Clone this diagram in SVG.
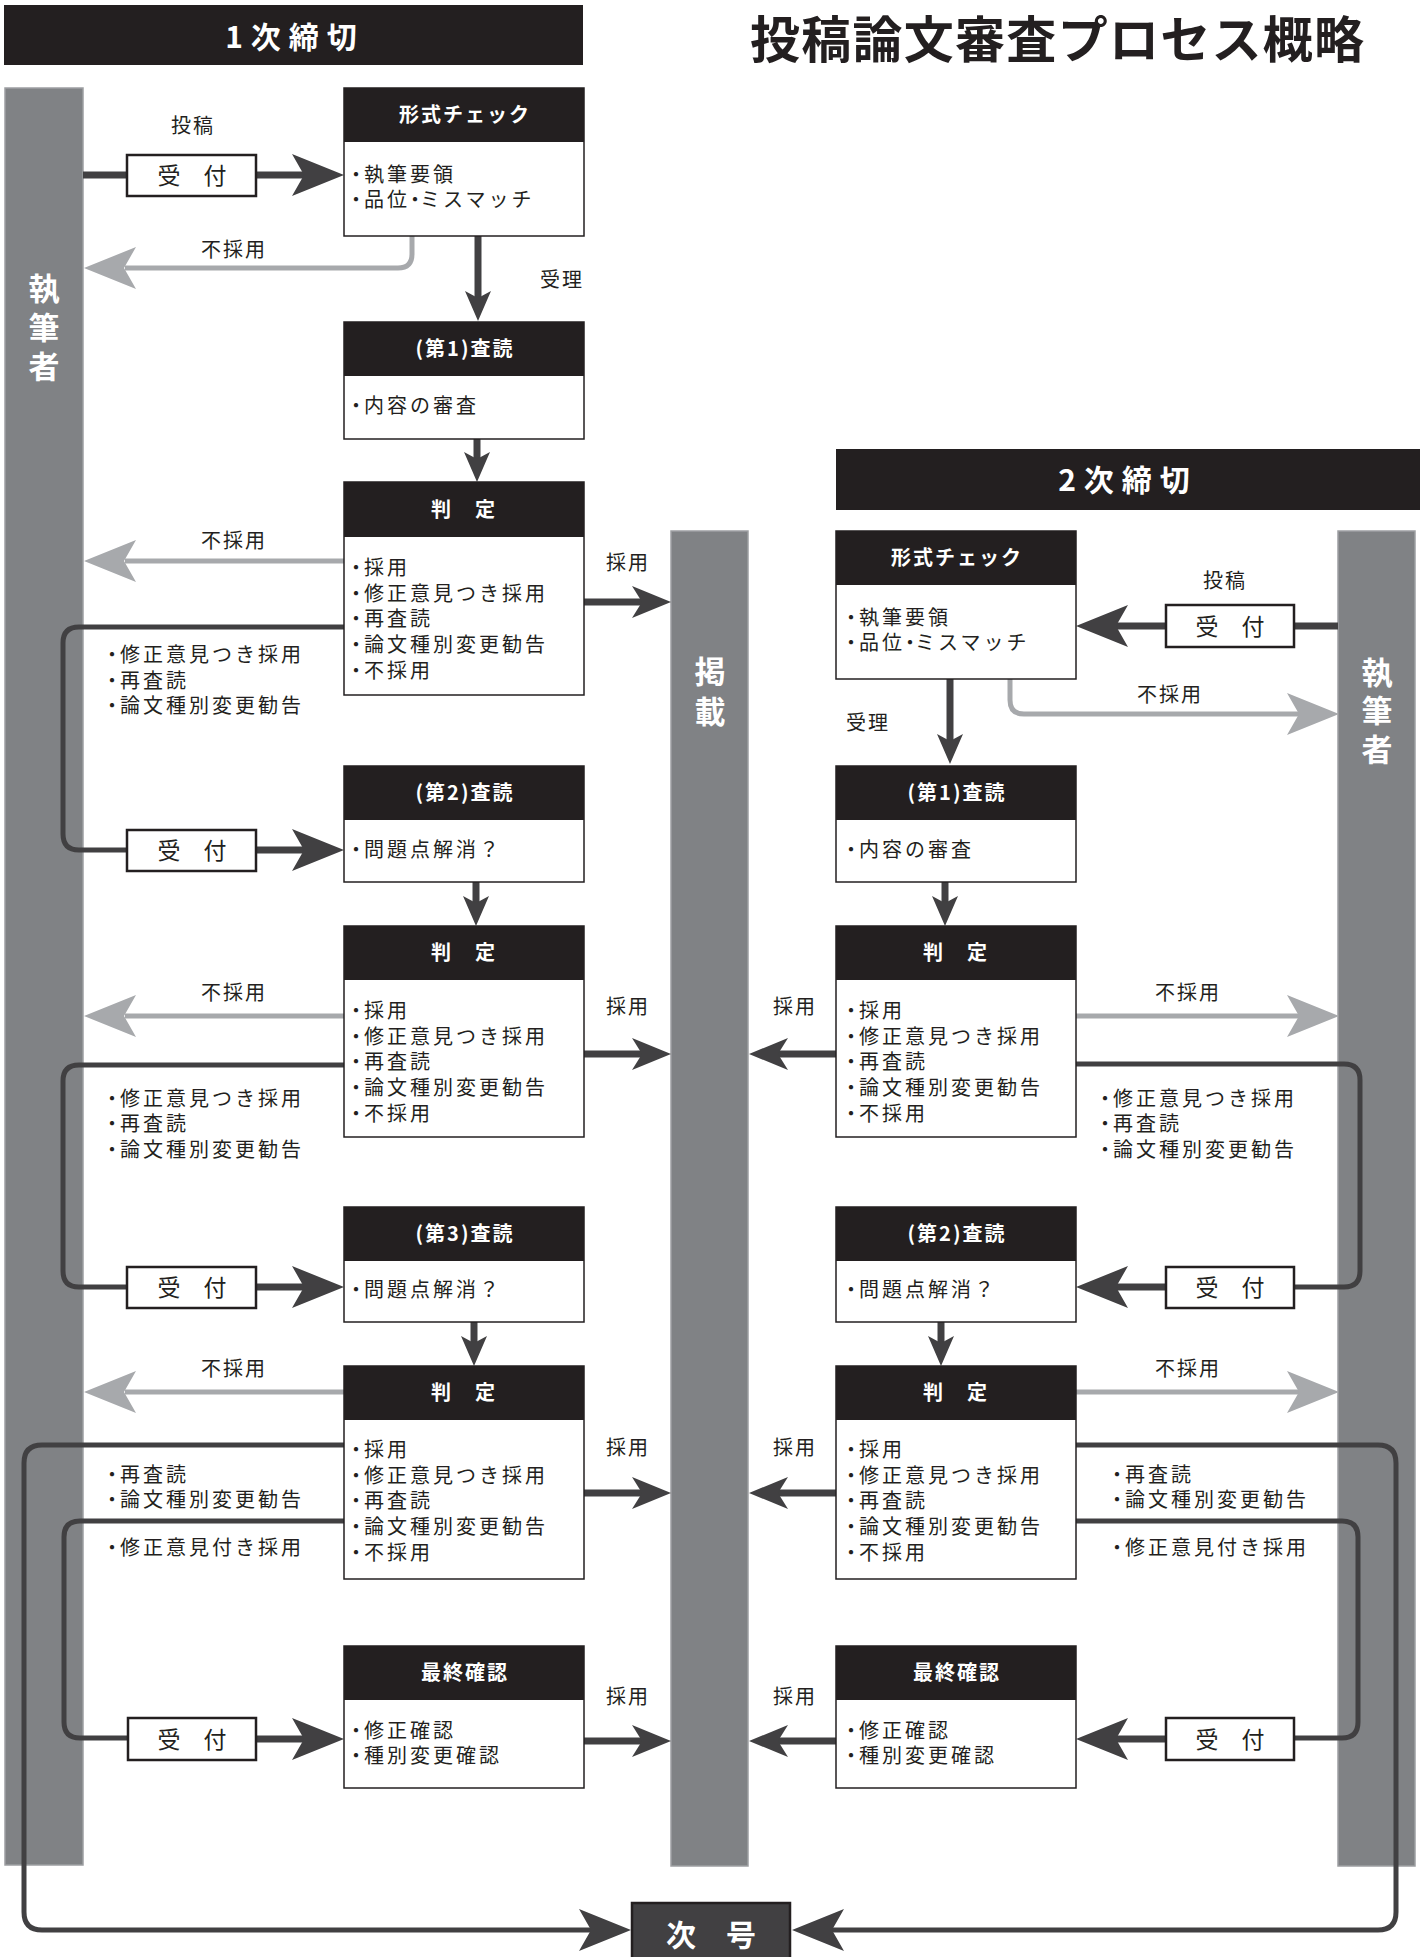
<svg xmlns="http://www.w3.org/2000/svg" xmlns:xlink="http://www.w3.org/1999/xlink" width="1423" height="1957" viewBox="0 0 1423 1957">
<style>
text{font-family:"Noto Sans CJK JP","Noto Sans",sans-serif;fill:#231f20}
.bar{fill:#808285;stroke:#9d9fa2;stroke-width:1.5}
.hd{fill:#231f20}
.bx{fill:#fff;stroke:#231f20;stroke-width:1.5}
.rc{fill:#fff;stroke:#231f20;stroke-width:2.5}
.ln{fill:none;stroke:#414042;stroke-width:7}
.lp{fill:none;stroke:#414042;stroke-width:5}
.gl{fill:none;stroke:#a7a9ac;stroke-width:5}
.h{font-size:20px;font-weight:bold;fill:#fff;text-anchor:middle;letter-spacing:2px}
.b{font-size:20px;letter-spacing:3px}
.d{letter-spacing:-2px}
.m{letter-spacing:-5px}
.lb{font-size:20px;text-anchor:middle;letter-spacing:2px}
.u{font-size:23px;text-anchor:middle}
.v{font-size:31px;font-weight:bold;fill:#fff;text-anchor:middle}
.tt{font-size:30px;font-weight:bold;fill:#fff;text-anchor:middle;letter-spacing:8px}
</style>
<defs>
<path id="aR" d="M0,0 L-52,-21 L-40,0 L-52,21 Z"/>
<path id="aL" d="M0,0 L52,-21 L40,0 L52,21 Z"/>
<path id="bR" d="M0,0 L-39,-16 L-29,0 L-39,16 Z"/>
<path id="bL" d="M0,0 L39,-16 L29,0 L39,16 Z"/>
<path id="cD" d="M0,0 L-13,-30 L0,-23 L13,-30 Z"/>
</defs>
<rect width="1423" height="1957" fill="#fff"/>

<g id="titles">
<rect x="4" y="5" width="579" height="60" class="hd"/>
<text x="295" y="48" class="tt">1次締切</text>
<rect x="836" y="449" width="584" height="61" class="hd"/>
<text x="1128" y="491" class="tt">2次締切</text>
<text x="750" y="58" textLength="614" lengthAdjust="spacing" style="font-size:50px;font-weight:bold">投稿論文審査プロセス概略</text>
</g>

<g id="bar-author-left">
<rect x="5" y="88" width="78" height="1777" class="bar"/>
<text x="44" y="300" class="v">執</text>
<text x="44" y="339" class="v">筆</text>
<text x="44" y="378" class="v">者</text>
</g>
<g id="bar-publish">
<rect x="671" y="531" width="77" height="1335" class="bar"/>
<text x="710" y="683" class="v">掲</text>
<text x="710" y="723" class="v">載</text>
</g>
<g id="bar-author-right">
<rect x="1338" y="531" width="77" height="1335" class="bar"/>
<text x="1377" y="684" class="v">執</text>
<text x="1377" y="722" class="v">筆</text>
<text x="1377" y="761" class="v">者</text>
</g>

<g id="connectors">
<!-- left column -->
<path class="ln" d="M83,175 H127"/>
<path class="ln" d="M256,175 H306"/><use href="#aR" x="344" y="175" fill="#414042"/>
<path class="gl" d="M412,236 V254 Q412,268 398,268 H125"/><use href="#aL" x="84" y="268" fill="#a7a9ac"/>
<path class="ln" d="M478,236 V298"/><use href="#cD" x="478" y="321" fill="#414042"/>
<path class="ln" d="M477,439 V459"/><use href="#cD" x="477" y="482" fill="#414042"/>
<path class="gl" d="M344,561 H125"/><use href="#aL" x="84" y="561" fill="#a7a9ac"/>
<path class="ln" d="M584,602 H643"/><use href="#bR" x="671" y="602" fill="#414042"/>
<path class="lp" d="M344,627 H79 Q63,627 63,643 V834 Q63,850 79,850 H127"/>
<path class="ln" d="M256,850 H306"/><use href="#aR" x="344" y="850" fill="#414042"/>
<path class="ln" d="M476,882 V903"/><use href="#cD" x="476" y="926" fill="#414042"/>
<path class="gl" d="M344,1016 H125"/><use href="#aL" x="84" y="1016" fill="#a7a9ac"/>
<path class="ln" d="M584,1054 H643"/><use href="#bR" x="671" y="1054" fill="#414042"/>
<path class="lp" d="M344,1065 H79 Q63,1065 63,1081 V1271 Q63,1287 79,1287 H127"/>
<path class="ln" d="M256,1287 H306"/><use href="#aR" x="344" y="1287" fill="#414042"/>
<path class="ln" d="M474,1322 V1343"/><use href="#cD" x="474" y="1366" fill="#414042"/>
<path class="gl" d="M344,1392 H125"/><use href="#aL" x="84" y="1392" fill="#a7a9ac"/>
<path class="ln" d="M584,1493 H643"/><use href="#bR" x="671" y="1493" fill="#414042"/>
<path class="lp" d="M344,1445 H42 Q24,1445 24,1463 V1912 Q24,1930 42,1930 H592"/><use href="#aR" x="631" y="1930" fill="#414042"/>
<path class="lp" d="M344,1521 H80 Q64,1521 64,1537 V1722 Q64,1738 80,1738 H128"/>
<path class="ln" d="M256,1739 H306"/><use href="#aR" x="344" y="1739" fill="#414042"/>
<path class="ln" d="M584,1741 H643"/><use href="#bR" x="671" y="1741" fill="#414042"/>
<!-- right column -->
<path class="ln" d="M1294,626 H1338"/>
<path class="ln" d="M1166,626 H1114"/><use href="#aL" x="1076" y="626" fill="#414042"/>
<path class="gl" d="M1010,679 V700 Q1010,714 1024,714 H1300"/><use href="#aR" x="1339" y="714" fill="#a7a9ac"/>
<path class="ln" d="M950,679 V741"/><use href="#cD" x="950" y="764" fill="#414042"/>
<path class="ln" d="M945,882 V903"/><use href="#cD" x="945" y="926" fill="#414042"/>
<path class="gl" d="M1076,1016 H1300"/><use href="#aR" x="1339" y="1016" fill="#a7a9ac"/>
<path class="ln" d="M836,1054 H777"/><use href="#bL" x="749" y="1054" fill="#414042"/>
<path class="lp" d="M1076,1064 H1344 Q1360,1064 1360,1080 V1271 Q1360,1287 1344,1287 H1294"/>
<path class="ln" d="M1166,1287 H1114"/><use href="#aL" x="1076" y="1287" fill="#414042"/>
<path class="ln" d="M941,1322 V1343"/><use href="#cD" x="941" y="1366" fill="#414042"/>
<path class="gl" d="M1076,1392 H1300"/><use href="#aR" x="1339" y="1392" fill="#a7a9ac"/>
<path class="ln" d="M836,1493 H777"/><use href="#bL" x="749" y="1493" fill="#414042"/>
<path class="lp" d="M1076,1445 H1378 Q1396,1445 1396,1463 V1912 Q1396,1930 1378,1930 H830"/><use href="#aL" x="792" y="1930" fill="#414042"/>
<path class="lp" d="M1076,1521 H1342 Q1358,1521 1358,1537 V1722 Q1358,1738 1342,1738 H1294"/>
<path class="ln" d="M1166,1739 H1114"/><use href="#aL" x="1076" y="1739" fill="#414042"/>
<path class="ln" d="M836,1741 H777"/><use href="#bL" x="749" y="1741" fill="#414042"/>
<!-- labels -->
<text x="193" y="133" class="lb">投稿</text>
<text x="234" y="257" class="lb">不採用</text>
<text x="562" y="287" class="lb">受理</text>
<text x="234" y="548" class="lb">不採用</text>
<text x="628" y="570" class="lb">採用</text>
<text x="102" y="662" class="b"><tspan class="d">・</tspan>修正意見つき採用</text>
<text x="102" y="688" class="b"><tspan class="d">・</tspan>再査読</text>
<text x="102" y="713" class="b"><tspan class="d">・</tspan>論文種別変更勧告</text>
<text x="234" y="1000" class="lb">不採用</text>
<text x="628" y="1014" class="lb">採用</text>
<text x="102" y="1106" class="b"><tspan class="d">・</tspan>修正意見つき採用</text>
<text x="102" y="1131" class="b"><tspan class="d">・</tspan>再査読</text>
<text x="102" y="1157" class="b"><tspan class="d">・</tspan>論文種別変更勧告</text>
<text x="234" y="1376" class="lb">不採用</text>
<text x="628" y="1455" class="lb">採用</text>
<text x="102" y="1482" class="b"><tspan class="d">・</tspan>再査読</text>
<text x="102" y="1507" class="b"><tspan class="d">・</tspan>論文種別変更勧告</text>
<text x="102" y="1555" class="b"><tspan class="d">・</tspan>修正意見付き採用</text>
<text x="628" y="1704" class="lb">採用</text>
<text x="1225" y="588" class="lb">投稿</text>
<text x="1170" y="702" class="lb">不採用</text>
<text x="868" y="730" class="lb">受理</text>
<text x="1188" y="1000" class="lb">不採用</text>
<text x="795" y="1014" class="lb">採用</text>
<text x="1095" y="1106" class="b"><tspan class="d">・</tspan>修正意見つき採用</text>
<text x="1095" y="1131" class="b"><tspan class="d">・</tspan>再査読</text>
<text x="1095" y="1157" class="b"><tspan class="d">・</tspan>論文種別変更勧告</text>
<text x="1188" y="1376" class="lb">不採用</text>
<text x="795" y="1455" class="lb">採用</text>
<text x="1107" y="1482" class="b"><tspan class="d">・</tspan>再査読</text>
<text x="1107" y="1507" class="b"><tspan class="d">・</tspan>論文種別変更勧告</text>
<text x="1107" y="1555" class="b"><tspan class="d">・</tspan>修正意見付き採用</text>
<text x="795" y="1704" class="lb">採用</text>
</g>

<!-- reception boxes -->
<g id="recv-L1"><rect x="127" y="155" width="129" height="41" class="rc"/><text x="192" y="184" class="u">受　付</text></g>
<g id="recv-L2"><rect x="127" y="830" width="129" height="41" class="rc"/><text x="192" y="859" class="u">受　付</text></g>
<g id="recv-L3"><rect x="127" y="1267" width="129" height="41" class="rc"/><text x="192" y="1296" class="u">受　付</text></g>
<g id="recv-L4"><rect x="128" y="1718" width="128" height="42" class="rc"/><text x="192" y="1748" class="u">受　付</text></g>
<g id="recv-R1"><rect x="1166" y="605" width="128" height="42" class="rc"/><text x="1230" y="635" class="u">受　付</text></g>
<g id="recv-R2"><rect x="1166" y="1267" width="128" height="41" class="rc"/><text x="1230" y="1296" class="u">受　付</text></g>
<g id="recv-R3"><rect x="1166" y="1718" width="128" height="42" class="rc"/><text x="1230" y="1748" class="u">受　付</text></g>

<!-- left column nodes -->
<g id="L-check">
<rect x="344" y="88" width="240" height="148" class="bx"/><rect x="344" y="88" width="240" height="54" class="hd"/>
<text x="465" y="122" class="h">形式チェック</text>
<text x="346" y="182" class="b"><tspan class="d">・</tspan>執筆要領</text>
<text x="346" y="207" class="b"><tspan class="d">・</tspan>品位<tspan class="m" dx="-5">・</tspan>ミスマッチ</text>
</g>
<g id="L-review1">
<rect x="344" y="322" width="240" height="117" class="bx"/><rect x="344" y="322" width="240" height="54" class="hd"/>
<text x="465" y="356" class="h">(第1)査読</text>
<text x="346" y="413" class="b"><tspan class="d">・</tspan>内容の審査</text>
</g>
<g id="L-judge1">
<rect x="344" y="482" width="240" height="213" class="bx"/><rect x="344" y="482" width="240" height="55" class="hd"/>
<text x="464" y="517" class="h">判　定</text>
<text x="346" y="575" class="b"><tspan class="d">・</tspan>採用</text>
<text x="346" y="601" class="b"><tspan class="d">・</tspan>修正意見つき採用</text>
<text x="346" y="626" class="b"><tspan class="d">・</tspan>再査読</text>
<text x="346" y="652" class="b"><tspan class="d">・</tspan>論文種別変更勧告</text>
<text x="346" y="678" class="b"><tspan class="d">・</tspan>不採用</text>
</g>
<g id="L-review2">
<rect x="344" y="766" width="240" height="116" class="bx"/><rect x="344" y="766" width="240" height="54" class="hd"/>
<text x="465" y="800" class="h">(第2)査読</text>
<text x="346" y="857" class="b"><tspan class="d">・</tspan>問題点解消？</text>
</g>
<g id="L-judge2">
<rect x="344" y="926" width="240" height="211" class="bx"/><rect x="344" y="926" width="240" height="54" class="hd"/>
<text x="464" y="960" class="h">判　定</text>
<text x="346" y="1018" class="b"><tspan class="d">・</tspan>採用</text>
<text x="346" y="1044" class="b"><tspan class="d">・</tspan>修正意見つき採用</text>
<text x="346" y="1069" class="b"><tspan class="d">・</tspan>再査読</text>
<text x="346" y="1095" class="b"><tspan class="d">・</tspan>論文種別変更勧告</text>
<text x="346" y="1121" class="b"><tspan class="d">・</tspan>不採用</text>
</g>
<g id="L-review3">
<rect x="344" y="1207" width="240" height="115" class="bx"/><rect x="344" y="1207" width="240" height="54" class="hd"/>
<text x="465" y="1241" class="h">(第3)査読</text>
<text x="346" y="1297" class="b"><tspan class="d">・</tspan>問題点解消？</text>
</g>
<g id="L-judge3">
<rect x="344" y="1366" width="240" height="213" class="bx"/><rect x="344" y="1366" width="240" height="54" class="hd"/>
<text x="464" y="1400" class="h">判　定</text>
<text x="346" y="1457" class="b"><tspan class="d">・</tspan>採用</text>
<text x="346" y="1483" class="b"><tspan class="d">・</tspan>修正意見つき採用</text>
<text x="346" y="1508" class="b"><tspan class="d">・</tspan>再査読</text>
<text x="346" y="1534" class="b"><tspan class="d">・</tspan>論文種別変更勧告</text>
<text x="346" y="1560" class="b"><tspan class="d">・</tspan>不採用</text>
</g>
<g id="L-final">
<rect x="344" y="1646" width="240" height="142" class="bx"/><rect x="344" y="1646" width="240" height="54" class="hd"/>
<text x="465" y="1680" class="h">最終確認</text>
<text x="346" y="1738" class="b"><tspan class="d">・</tspan>修正確認</text>
<text x="346" y="1763" class="b"><tspan class="d">・</tspan>種別変更確認</text>
</g>

<!-- right column nodes -->
<g id="R-check">
<rect x="836" y="531" width="240" height="148" class="bx"/><rect x="836" y="531" width="240" height="54" class="hd"/>
<text x="957" y="565" class="h">形式チェック</text>
<text x="841" y="625" class="b"><tspan class="d">・</tspan>執筆要領</text>
<text x="841" y="650" class="b"><tspan class="d">・</tspan>品位<tspan class="m" dx="-5">・</tspan>ミスマッチ</text>
</g>
<g id="R-review1">
<rect x="836" y="766" width="240" height="116" class="bx"/><rect x="836" y="766" width="240" height="54" class="hd"/>
<text x="957" y="800" class="h">(第1)査読</text>
<text x="841" y="857" class="b"><tspan class="d">・</tspan>内容の審査</text>
</g>
<g id="R-judge1">
<rect x="836" y="926" width="240" height="211" class="bx"/><rect x="836" y="926" width="240" height="54" class="hd"/>
<text x="956" y="960" class="h">判　定</text>
<text x="841" y="1018" class="b"><tspan class="d">・</tspan>採用</text>
<text x="841" y="1044" class="b"><tspan class="d">・</tspan>修正意見つき採用</text>
<text x="841" y="1069" class="b"><tspan class="d">・</tspan>再査読</text>
<text x="841" y="1095" class="b"><tspan class="d">・</tspan>論文種別変更勧告</text>
<text x="841" y="1121" class="b"><tspan class="d">・</tspan>不採用</text>
</g>
<g id="R-review2">
<rect x="836" y="1207" width="240" height="115" class="bx"/><rect x="836" y="1207" width="240" height="54" class="hd"/>
<text x="957" y="1241" class="h">(第2)査読</text>
<text x="841" y="1297" class="b"><tspan class="d">・</tspan>問題点解消？</text>
</g>
<g id="R-judge2">
<rect x="836" y="1366" width="240" height="213" class="bx"/><rect x="836" y="1366" width="240" height="54" class="hd"/>
<text x="956" y="1400" class="h">判　定</text>
<text x="841" y="1457" class="b"><tspan class="d">・</tspan>採用</text>
<text x="841" y="1483" class="b"><tspan class="d">・</tspan>修正意見つき採用</text>
<text x="841" y="1508" class="b"><tspan class="d">・</tspan>再査読</text>
<text x="841" y="1534" class="b"><tspan class="d">・</tspan>論文種別変更勧告</text>
<text x="841" y="1560" class="b"><tspan class="d">・</tspan>不採用</text>
</g>
<g id="R-final">
<rect x="836" y="1646" width="240" height="142" class="bx"/><rect x="836" y="1646" width="240" height="54" class="hd"/>
<text x="957" y="1680" class="h">最終確認</text>
<text x="841" y="1738" class="b"><tspan class="d">・</tspan>修正確認</text>
<text x="841" y="1763" class="b"><tspan class="d">・</tspan>種別変更確認</text>
</g>

<g id="next-issue">
<rect x="632" y="1903" width="158" height="60" fill="#414042" stroke="#231f20" stroke-width="2.5"/>
<text x="711" y="1946" style="font-size:30px;font-weight:bold;fill:#fff;text-anchor:middle">次　号</text>
</g>
</svg>
